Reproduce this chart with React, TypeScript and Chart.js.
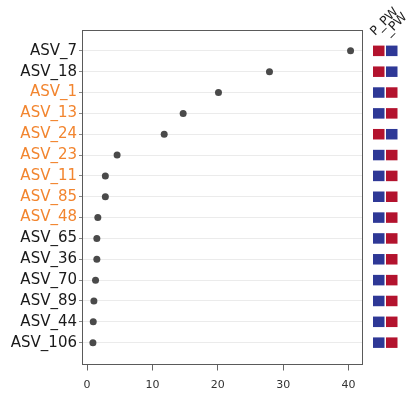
import React, { useEffect, useRef } from "react";
import { Chart, registerables } from "chart.js";
Chart.register(...registerables);

const taxa = ["ASV_7", "ASV_18", "ASV_1", "ASV_13", "ASV_24", "ASV_23", "ASV_11", "ASV_85", "ASV_48", "ASV_65", "ASV_36", "ASV_70", "ASV_89", "ASV_44", "ASV_106"];
const importance = [40.3, 27.9, 20.1, 14.7, 11.8, 4.6, 2.8, 2.8, 1.65, 1.5, 1.5, 1.3, 1.05, 0.95, 0.9];
const highlighted = [false, false, true, true, true, true, true, true, true, false, false, false, false, false, false];
const groupLabels = ["P_PW", "_PW"];
// 1 = high (red), 0 = low (blue)
const heatP = [1, 1, 0, 0, 1, 0, 0, 0, 0, 0, 0, 0, 0, 0, 0];
const heatPW = [0, 0, 1, 1, 0, 1, 1, 1, 1, 1, 1, 1, 1, 1, 1];
const xTicks = [0, 10, 20, 30, 40];

const RED = "#b3132e";
const BLUE = "#2e3896";
const ORANGE = "#f2852f";
const FONT = "'DejaVu Sans', Verdana, sans-serif";

const framePlugin = {
  id: "frame",
  afterDatasetsDraw(chart: any) {
    const { ctx, chartArea } = chart;
    ctx.save();
    ctx.strokeStyle = "#5a5a5a";
    ctx.lineWidth = 1;
    ctx.strokeRect(Math.round(chartArea.left) + 0.5, Math.round(chartArea.top) + 0.5,
      Math.round(chartArea.right - chartArea.left), Math.round(chartArea.bottom - chartArea.top));
    ctx.restore();
  },
};

const heatPlugin = {
  id: "heat",
  afterDraw(chart: any) {
    const { ctx, chartArea } = chart;
    const y = chart.scales.y;
    const cols = [heatP, heatPW];
    const cw = 11.5, ch = 10.5;
    ctx.save();
    cols.forEach((col, c) => {
      const x0 = chartArea.right + 11 + c * 13;
      col.forEach((v, i) => {
        const py = y.getPixelForValue(i);
        ctx.fillStyle = v ? RED : BLUE;
        ctx.fillRect(x0, py - ch / 2, cw, ch);
      });
      ctx.save();
      ctx.translate(x0 + 2 + c * 1, chartArea.top + 6);
      ctx.rotate(-Math.PI / 4);
      ctx.fillStyle = "#222";
      ctx.font = `12.5px ${FONT}`;
      ctx.textAlign = "left";
      ctx.textBaseline = "alphabetic";
      ctx.fillText(groupLabels[c], 0, 0);
      ctx.restore();
    });
    ctx.restore();
  },
};

export default function App() {
  const ref = useRef<HTMLCanvasElement | null>(null);
  useEffect(() => {
    if (!ref.current) return;
    const chart = new Chart(ref.current, {
      type: "scatter",
      data: {
        datasets: [
          {
            data: importance.map((v, i) => ({ x: v, y: i })),
            pointRadius: 3.5,
            pointBackgroundColor: "#4a4a4a",
            pointBorderWidth: 0,
          },
        ],
      },
      options: {
        animation: false,
        responsive: false,
        layout: { padding: { top: 30, right: 52, left: 8, bottom: 0 } },
        plugins: { legend: { display: false }, tooltip: { enabled: false } },
        scales: {
          x: {
            type: "linear",
            min: -0.77,
            max: 42.05,
            afterBuildTicks: (s: any) => {
              s.ticks = xTicks.map((v) => ({ value: v }));
            },
            afterFit: (s: any) => {
              s.height = 30.5;
            },
            grid: { drawOnChartArea: false, tickLength: 7, tickColor: "#666", color: "#666" },
            border: { display: false },
            ticks: { font: { family: FONT, size: 11 }, color: "#333", padding: 8, maxRotation: 0 },
          },
          y: {
            type: "linear",
            min: -1,
            max: 15,
            reverse: true,
            afterBuildTicks: (s: any) => {
              s.ticks = taxa.map((_, i) => ({ value: i }));
            },
            afterFit: (s: any) => {
              s.width = 74;
            },
            grid: { color: "#ebebeb", tickLength: 3, tickColor: "#888" },
            border: { display: false },
            ticks: {
              callback: (v: any) => taxa[Math.round(Number(v))] ?? "",
              color: (ctx: any) => (highlighted[ctx.index] ? ORANGE : "#1a1a1a"),
              font: { family: FONT, size: 15 },
              padding: 2,
              autoSkip: false,
            },
          },
        },
      },
      plugins: [framePlugin, heatPlugin],
    });
    return () => chart.destroy();
  }, []);
  return (
    <div style={{ position: "absolute", left: 0, top: 0, width: 414, height: 394, background: "#fff" }}>
      <canvas ref={ref} width={414} height={394} style={{ width: 414, height: 394, display: "block" }} />
    </div>
  );
}
